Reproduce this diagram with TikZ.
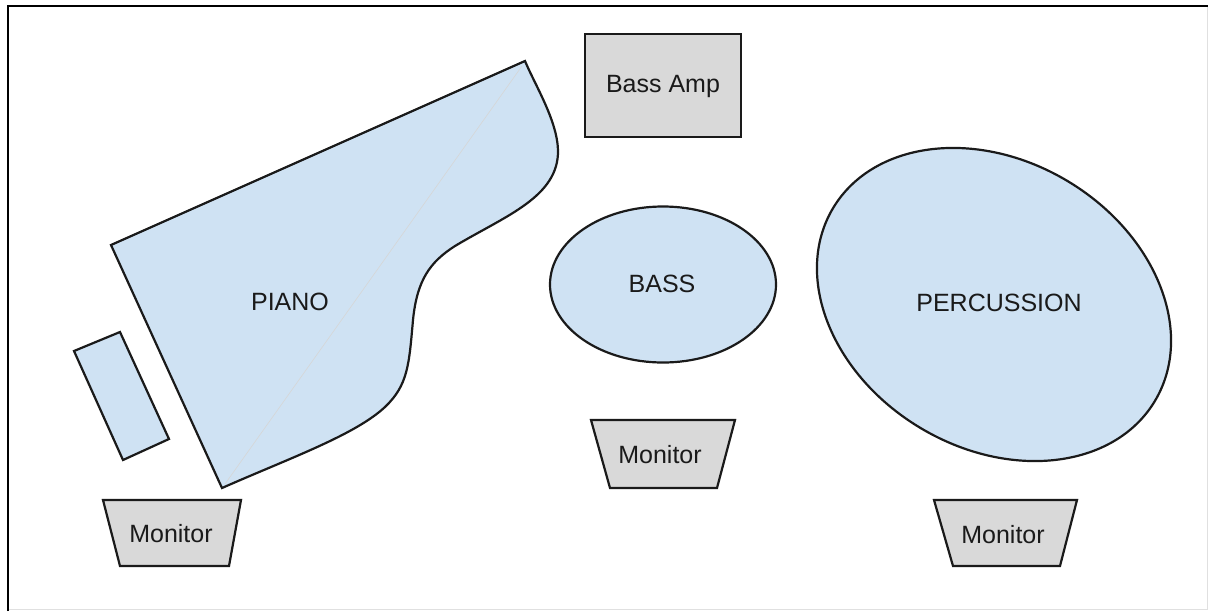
\documentclass[tikz,border=0pt]{standalone}
\usepackage{fontspec}
\setmainfont{Liberation Sans}
\definecolor{pblue}{HTML}{CFE2F3}
\definecolor{pgray}{HTML}{D9D9D9}
\definecolor{pink}{HTML}{1A1A1A}
\tikzset{
  shp/.style={draw=pink,line width=2.2pt,line join=miter},
  blue/.style={shp,fill=pblue},
  gray/.style={shp,fill=pgray},
  lbl/.style={text=pink,font=\fontsize{25pt}{30pt}\selectfont,inner sep=0pt,anchor=center}
}
\begin{document}
\begin{tikzpicture}[x=1pt,y=-1pt]
\useasboundingbox (0,0) rectangle (1208,611);
\fill[white] (0,0) rectangle (1208,611);
\draw[black!12,line width=1pt] (8,609.5) -- (1207,609.5) -- (1207,6);
\draw[black,line width=2.4pt] (8,611) -- (8,6) -- (1208,6);
% piano
\draw[blue] (525,61) .. controls (535,85) and (557,120) .. (558,150)
  .. controls (559,197) and (505,216) .. (455,246)
  .. controls (430,262) and (417,280) .. (413,320)
  .. controls (409,365) and (408,385) .. (385,407)
  .. controls (355,435) and (290,458) .. (222,488)
  -- (111,245) -- cycle;
\draw[black!16,line width=0.6pt] (225,484) -- (522,66);
\draw[blue] (74,351) -- (120,332) -- (169,439) -- (123,460) -- cycle;
% bass
\draw[blue] (663,284.5) ellipse [x radius=113, y radius=78];
% percussion
\draw[blue,rotate around={-31:(994,304.5)}] (994,304.5) ellipse [x radius=187.6, y radius=143.7];
% boxes
\draw[gray] (585,34) rectangle (741,137);
\draw[gray] (103,500) -- (241,500) -- (229,566) -- (120,566) -- cycle;
\draw[gray] (591,420) -- (735,420) -- (717,488) -- (610,488) -- cycle;
\draw[gray] (934,500) -- (1077,500) -- (1060,566) -- (953,566) -- cycle;
% labels
\node[lbl] (piano) at (290,302) {PIANO};
\node[lbl] (bass) at (662,284) {BASS};
\node[lbl] (perc) at (999,303) {PERCUSSION};
\node[lbl] (amp) at (663,86) {Bass Amp};
\node[lbl] (m1) at (171,534) {Monitor};
\node[lbl] (m2) at (660,455) {Monitor};
\node[lbl] (m3) at (1003,535) {Monitor};
\end{tikzpicture}
\end{document}
